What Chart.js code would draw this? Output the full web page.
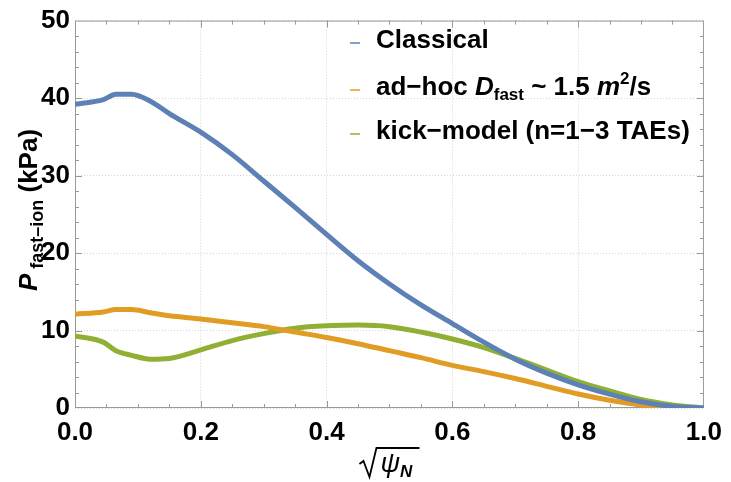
<!DOCTYPE html>
<html>
<head>
<meta charset="utf-8">
<script src="https://cdn.jsdelivr.net/npm/chart.js@4.4.0/dist/chart.umd.min.js"></script>
<style>
  html, body { margin: 0; padding: 0; background: #fff; }
</style>
</head>
<body>
<canvas id="grafico" width="731" height="482"></canvas>
<script>
// valores
const raioX = [0, 0.045, 0.065, 0.09, 0.12, 0.15, 0.2, 0.25, 0.3, 0.35, 0.4, 0.45, 0.5, 0.55, 0.6, 0.65, 0.7, 0.75, 0.8, 0.85, 0.9, 0.95, 1.0];
const classico = [39.2, 39.8, 40.5, 40.5, 39.6, 38.0, 35.6, 32.7, 29.3, 25.9, 22.4, 19.0, 16.0, 13.3, 10.9, 8.5, 6.3, 4.5, 3.0, 1.8, 0.8, 0.2, 0];
const adhoc = [12.1, 12.4, 12.7, 12.7, 12.3, 11.9, 11.5, 11.0, 10.5, 9.8, 9.1, 8.3, 7.4, 6.5, 5.5, 4.7, 3.8, 2.8, 1.8, 1.0, 0.4, 0.1, 0];
const kick = [9.3, 8.5, 7.4, 6.8, 6.3, 6.4, 7.5, 8.7, 9.6, 10.3, 10.6, 10.7, 10.5, 9.8, 8.9, 7.8, 6.4, 4.9, 3.4, 2.2, 1.1, 0.4, 0];

const cores = ['#5E81B5', '#E19C24', '#8FB032'];
const ticksMenoresX = [0.05, 0.1, 0.15, 0.25, 0.3, 0.35, 0.45, 0.5, 0.55, 0.65, 0.7, 0.75, 0.85, 0.9, 0.95];
const ticksMaioresX = [0.2, 0.4, 0.6, 0.8];
const ticksMenoresY = [2, 4, 6, 8, 12, 14, 16, 18, 22, 24, 26, 28, 32, 34, 36, 38, 42, 44, 46, 48];
const ticksMaioresY = [10, 20, 30, 40];

const FONTE = '"Liberation Sans", Arial, sans-serif';

function pontos(ys) {
  return raioX.map((x, i) => ({ x: x, y: ys[i] }));
}

// escreve texto com partes em fontes diferentes (sub/sobrescrito)
function textoRico(ctx, partes, x, y) {
  let px = x;
  partes.forEach(p => {
    ctx.font = p.f;
    ctx.fillText(p.t, px, y + (p.dy || 0));
    px += ctx.measureText(p.t).width;
  });
  return px - x;
}
function larguraRica(ctx, partes) {
  let w = 0;
  partes.forEach(p => { ctx.font = p.f; w += ctx.measureText(p.t).width; });
  return w;
}

const B = 'bold 26px ' + FONTE;
const BI = 'italic bold 26px ' + FONTE;
const BP = 'bold 17px ' + FONTE;

const legendaItens = [
  [{ t: 'Classical', f: B }],
  [{ t: 'ad\u2212hoc ', f: B }, { t: 'D', f: BI }, { t: 'fast', f: BP, dy: 5 }, { t: ' ~ 1.5 ', f: B }, { t: 'm', f: BI }, { t: '2', f: BP, dy: -11 }, { t: '/s', f: B }],
  [{ t: 'kick\u2212model (n=1\u22123 TAEs)', f: B }]
];
const legendaY = [48, 95, 139];

const extras = {
  id: 'extras',
  beforeDatasetsDraw(chart) {
    const ctx = chart.ctx;
    const a = chart.chartArea;
    const sx = chart.scales.x, sy = chart.scales.y;
    ctx.save();
    ctx.strokeStyle = '#999';
    ctx.lineWidth = 1;
    ctx.strokeRect(a.left + 0.5, a.top + 0.5, a.right - a.left - 1, a.bottom - a.top - 1);
    ctx.beginPath();
    const tx = (v, len) => {
      const p = Math.round(sx.getPixelForValue(v)) + 0.5;
      ctx.moveTo(p, a.bottom); ctx.lineTo(p, a.bottom - len);
      ctx.moveTo(p, a.top); ctx.lineTo(p, a.top + len);
    };
    const ty = (v, len) => {
      const p = Math.round(sy.getPixelForValue(v)) + 0.5;
      ctx.moveTo(a.left, p); ctx.lineTo(a.left + len, p);
      ctx.moveTo(a.right, p); ctx.lineTo(a.right - len, p);
    };
    ticksMenoresX.forEach(v => tx(v, 4));
    ticksMaioresX.forEach(v => tx(v, 7));
    ticksMenoresY.forEach(v => ty(v, 4));
    ticksMaioresY.forEach(v => ty(v, 7));
    ctx.stroke();
    ctx.restore();
  },
  afterDatasetsDraw(chart) {
    const ctx = chart.ctx;
    const a = chart.chartArea;
    ctx.save();
    ctx.fillStyle = '#000';
    ctx.textBaseline = 'alphabetic';
    ctx.textAlign = 'left';

    // legenda
    legendaItens.forEach((partes, i) => {
      ctx.strokeStyle = cores[i];
      ctx.lineWidth = 1.5;
      ctx.beginPath();
      ctx.moveTo(350, legendaY[i] - 5);
      ctx.lineTo(360, legendaY[i] - 5);
      ctx.stroke();
      textoRico(ctx, partes, 376, legendaY[i]);
    });

    // titulo do eixo y
    const tituloY = [{ t: 'P', f: BI }, { t: ' fast\u2013ion', f: 'bold 18px ' + FONTE, dy: 6 }, { t: ' (kPa)', f: B }];
    ctx.save();
    ctx.translate(37, 210);
    ctx.rotate(-Math.PI / 2);
    const wy = larguraRica(ctx, tituloY);
    textoRico(ctx, tituloY, -wy / 2, 0);
    ctx.restore();

    // titulo do eixo x: raiz de psi_N
    const cx = (a.left + a.right) / 2;
    const tituloX = [{ t: '\u03C8', f: 'italic 27px ' + FONTE }, { t: 'N', f: 'italic bold 17px ' + FONTE, dy: 5 }];
    textoRico(ctx, tituloX, cx - 9, 472);
    ctx.strokeStyle = '#000';
    ctx.lineWidth = 1.8;
    ctx.beginPath();
    ctx.moveTo(cx - 30, 464);
    ctx.lineTo(cx - 26, 461);
    ctx.lineTo(cx - 20, 477);
    ctx.lineTo(cx - 13, 448);
    ctx.lineTo(cx + 30, 448);
    ctx.stroke();
    ctx.restore();
  }
};

const serie = (label, ys, cor) => ({
  label: label,
  data: pontos(ys),
  borderColor: cor,
  backgroundColor: cor,
  borderWidth: 5,
  pointRadius: 0,
  cubicInterpolationMode: 'monotone',
  fill: false
});

new Chart(document.getElementById('grafico').getContext('2d'), {
  type: 'line',
  data: {
    datasets: [
      serie('Classical', classico, cores[0]),
      serie('ad-hoc', adhoc, cores[1]),
      serie('kick-model', kick, cores[2])
    ]
  },
  options: {
    responsive: false,
    animation: false,
    devicePixelRatio: 1,
    layout: { padding: { top: 15, right: 21, left: 0, bottom: 0 } },
    plugins: { legend: { display: false }, tooltip: { enabled: false } },
    scales: {
      x: {
        type: 'linear', min: 0, max: 1,
        afterFit: s => { s.height = 74; },
        grid: { color: '#d4d4d4', drawTicks: false, lineWidth: 1 },
        border: { display: false, dash: [1, 2] },
        ticks: { stepSize: 0.2, padding: 9, color: '#000', font: { family: FONTE, size: 26, weight: 'bold' },
                 callback: v => v.toFixed(1), maxRotation: 0 }
      },
      y: {
        min: 0, max: 50,
        afterFit: s => { s.width = 75; },
        grid: { color: '#d4d4d4', drawTicks: false, lineWidth: 1 },
        border: { display: false, dash: [1, 2] },
        ticks: { stepSize: 10, padding: 5, color: '#000', font: { family: FONTE, size: 26, weight: 'bold' } }
      }
    }
  },
  plugins: [extras]
});
</script>
</body>
</html>
